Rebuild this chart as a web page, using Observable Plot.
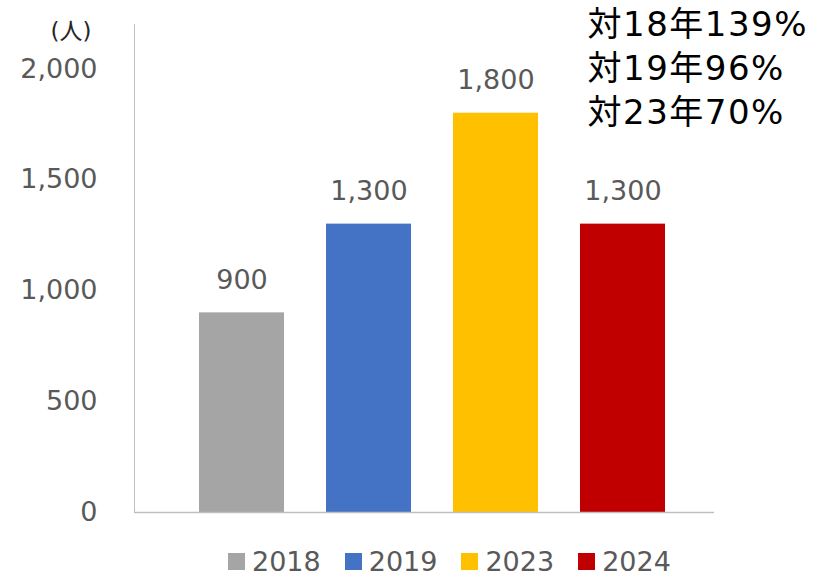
<!DOCTYPE html>
<html>
<head>
<meta charset="utf-8">
<script src="https://cdn.jsdelivr.net/npm/d3@7"></script>
<script src="https://cdn.jsdelivr.net/npm/@observablehq/plot@0.6"></script>
<style>
  body { margin: 0; background: #fff; font-family: "DejaVu Sans", "Noto Sans CJK JP", sans-serif; }
  #wrap { position: relative; width: 818px; height: 577px; }
  #legend { position: absolute; left: 228px; top: 546px; display: flex; align-items: center; font-size: 27px; color: #595959; }
  .item { display: flex; align-items: center; margin-right: 24px; }
  .sw { width: 17px; height: 17px; margin-right: 7px; }
</style>
</head>
<body>
<div id="wrap"></div>
<script>
const years = ["2018", "2019", "2023", "2024"];
const values = [900, 1300, 1800, 1300];
const colors = ["#A5A5A5", "#4472C4", "#FFC000", "#C00000"];
const yTicks = [0, 500, 1000, 1500, 2000];
const unitLabel = "(人)";
const notes = ["対18年139%", "対19年96%", "対23年70%"];

const data = years.map((y, i) => ({year: y, value: values[i]}));

const chart = Plot.plot({
  width: 818,
  height: 530,
  marginLeft: 134,
  marginRight: 104,
  marginTop: 24,
  marginBottom: 18,
  style: {fontFamily: '"DejaVu Sans", "Noto Sans CJK JP", sans-serif', background: "#fff"},
  x: {domain: years, range: [198, 666], paddingInner: 0.33, paddingOuter: 0, axis: null},
  y: {domain: [0, 2200], axis: null},
  color: {domain: years, range: colors},
  marks: [
    Plot.barY(data, {x: "year", y: "value", fill: "year"}),
    Plot.frame({anchor: "left", stroke: "#BFBFBF", strokeWidth: 1}),
    Plot.ruleY([0], {stroke: "#BFBFBF", strokeWidth: 1.5}),
    Plot.axisY({ticks: yTicks, tickFormat: d3.format(","), tickSize: 0, tickPadding: 37, fontSize: 27, color: "#595959", label: null}),
    Plot.text(data, {x: "year", y: "value", text: d => d3.format(",")(d.value), dy: -33, fontSize: 27, fill: "#595959", lineAnchor: "middle"}),
    Plot.text([unitLabel], {frameAnchor: "top-left", dx: -43, dy: 7, textAnchor: "end", lineAnchor: "middle", fontSize: 23, fill: "#262626"}),
    Plot.text([notes.join("\n")], {frameAnchor: "top-left", dx: 453, dy: -20, textAnchor: "start", lineAnchor: "top", fontSize: 34, lineHeight: 1.3, fill: "#000"})
  ]
});
d3.select(chart).selectAll("text").filter(function() { return this.textContent.includes("対"); })
  .style("letter-spacing", "1.5px");
document.getElementById("wrap").appendChild(chart);

const legend = document.createElement("div");
legend.id = "legend";
years.forEach((y, i) => {
  const it = document.createElement("div");
  it.className = "item";
  const sw = document.createElement("div");
  sw.className = "sw";
  sw.style.background = colors[i];
  const t = document.createElement("span");
  t.textContent = y;
  it.appendChild(sw); it.appendChild(t);
  legend.appendChild(it);
});
document.getElementById("wrap").appendChild(legend);
</script>
</body>
</html>
